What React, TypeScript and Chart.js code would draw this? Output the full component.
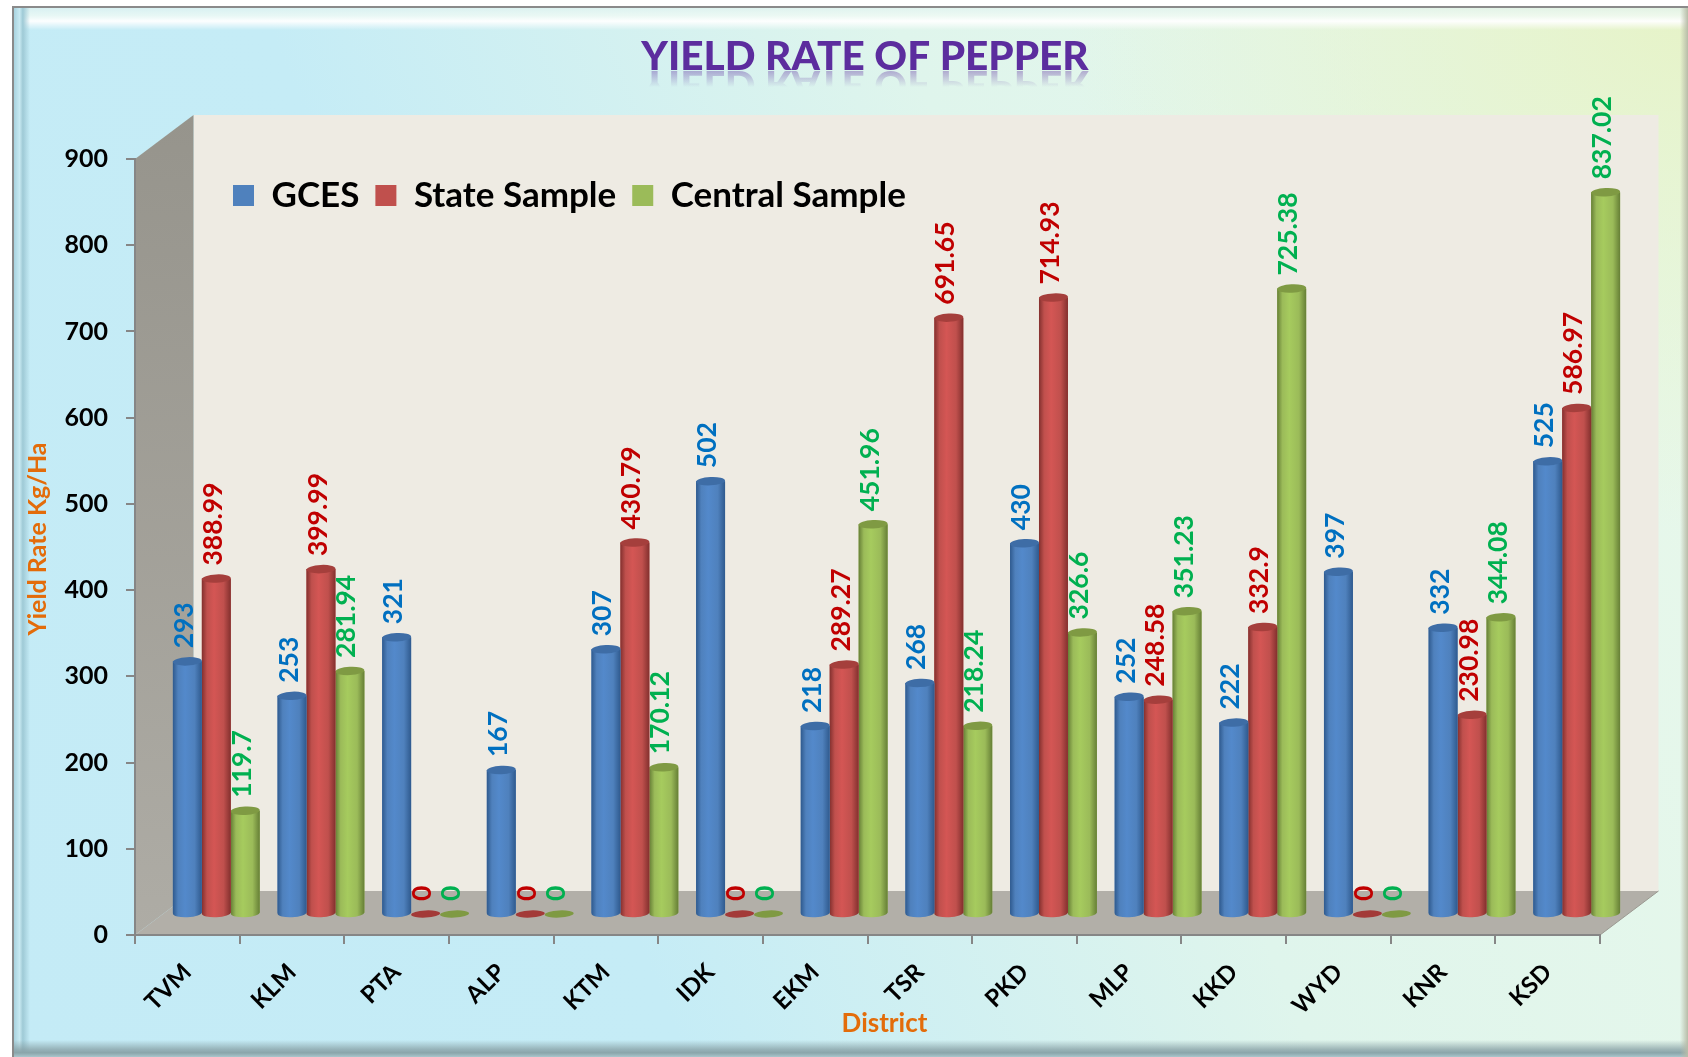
import React, { useEffect, useRef } from "react";
import { Chart, registerables } from "chart.js";

Chart.register(...registerables);

const districts = ["TVM", "KLM", "PTA", "ALP", "KTM", "IDK", "EKM", "TSR", "PKD", "MLP", "KKD", "WYD", "KNR", "KSD"];
const gces = [293, 253, 321, 167, 307, 502, 218, 268, 430, 252, 222, 397, 332, 525];
const stateSample = [388.99, 399.99, 0, 0, 430.79, 0, 289.27, 691.65, 714.93, 248.58, 332.9, 0, 230.98, 586.97];
const centralSample = [119.7, 281.94, 0, 0, 170.12, 0, 451.96, 218.24, 326.6, 351.23, 725.38, 0, 344.08, 837.02];

const FONT = "Lato, 'Noto Sans', sans-serif";
const DEPTH_X = 58.5;
const DEPTH_Y = 44;
const BAR_DX = 29;
const BAR_DY = 21;

const palettes = [
  { base: "#4f81bd", edge: "#2f5a8e", mid: "#5389cb", cap: "#3e6da6", zero: "#3e6da6", label: "#0070c0" },
  { base: "#c0504d", edge: "#83302e", mid: "#d45654", cap: "#a53f3c", zero: "#a33a38", label: "#c00000" },
  { base: "#9bbb59", edge: "#667f36", mid: "#a6cb5e", cap: "#7f9a43", zero: "#7f9a43", label: "#00b050" },
];

function cylinder(ctx: CanvasRenderingContext2D, x: number, top: number, base: number, w: number, p: (typeof palettes)[number]) {
  const rx = w / 2;
  const tilt = -0.05;
  const solid = base - top > 0.5;
  const ry = solid ? 4.2 : 3.6;
  if (solid) {
    const g = ctx.createLinearGradient(x - rx, 0, x + rx, 0);
    g.addColorStop(0, p.edge);
    g.addColorStop(0.18, p.base);
    g.addColorStop(0.42, p.mid);
    g.addColorStop(0.75, p.base);
    g.addColorStop(1, p.edge);
    ctx.fillStyle = g;
    ctx.beginPath();
    ctx.moveTo(x - rx, top);
    ctx.lineTo(x - rx, base);
    ctx.ellipse(x, base, rx, ry, tilt, Math.PI, 0, true);
    ctx.lineTo(x + rx, top);
    ctx.closePath();
    ctx.fill();
  }
  ctx.fillStyle = solid ? p.cap : p.zero;
  ctx.beginPath();
  ctx.ellipse(x, top, rx, ry, tilt, 0, Math.PI * 2);
  ctx.fill();
}

const scene3d = {
  id: "scene3d",
  afterLayout(chart: any) {
    const { titleBlock, legend, scales } = chart;
    titleBlock.left += 65;
    titleBlock.right += 65;
    legend.left = 217;
    legend.right = 1100;
    legend.top = 162;
    legend.bottom = 223;
    const shiftTitle = (s: any, dx: number, dy: number) => {
      const orig = Object.getPrototypeOf(s).drawTitle ?? s.drawTitle;
      s.drawTitle = function () {
        const c = this.ctx;
        c.save();
        c.translate(dx, dy);
        orig.call(this);
        c.restore();
      };
    };
    shiftTitle(scales.x, 17, 0);
    shiftTitle(scales.y, 0, -8);
  },
  beforeDraw(chart: any) {
    const { ctx, chartArea: a } = chart;
    ctx.save();
    // back wall
    ctx.fillStyle = "#eeebe3";
    ctx.fillRect(a.left + DEPTH_X, a.top - DEPTH_Y, a.right - a.left, a.bottom - a.top);
    // side wall
    const g = ctx.createLinearGradient(0, a.top - DEPTH_Y, 0, a.bottom);
    g.addColorStop(0, "#96948c");
    g.addColorStop(1, "#aeaca5");
    ctx.fillStyle = g;
    ctx.beginPath();
    ctx.moveTo(a.left, a.top);
    ctx.lineTo(a.left + DEPTH_X, a.top - DEPTH_Y);
    ctx.lineTo(a.left + DEPTH_X, a.bottom - DEPTH_Y);
    ctx.lineTo(a.left, a.bottom);
    ctx.closePath();
    ctx.fill();
    // floor
    ctx.fillStyle = "#b2afa8";
    ctx.beginPath();
    ctx.moveTo(a.left, a.bottom);
    ctx.lineTo(a.left + DEPTH_X, a.bottom - DEPTH_Y);
    ctx.lineTo(a.right + DEPTH_X, a.bottom - DEPTH_Y);
    ctx.lineTo(a.right, a.bottom);
    ctx.closePath();
    ctx.fill();
    ctx.strokeStyle = "#9a9890";
    ctx.lineWidth = 1;
    ctx.beginPath();
    ctx.moveTo(a.right, a.bottom);
    ctx.lineTo(a.right + DEPTH_X, a.bottom - DEPTH_Y);
    ctx.stroke();
    ctx.restore();
  },
  beforeDatasetDraw(chart: any) {
    chart.ctx.save();
    chart.ctx.translate(BAR_DX, -BAR_DY);
  },
  afterDatasetDraw(chart: any, args: any) {
    const { ctx } = chart;
    const p = palettes[args.index];
    args.meta.data.forEach((el: any) => {
      const { x, y, base, width } = el.getProps(["x", "y", "base", "width"], true);
      cylinder(ctx, x, y, base, width, p);
    });
    ctx.restore();
  },
  afterDatasetsDraw(chart: any) {
    const { ctx } = chart;
    ctx.save();
    ctx.font = `bold 26.5px ${FONT}`;
    ctx.textAlign = "left";
    ctx.textBaseline = "middle";
    chart.data.datasets.forEach((ds: any, i: number) => {
      ctx.fillStyle = palettes[i].label;
      chart.getDatasetMeta(i).data.forEach((el: any, j: number) => {
        const { x, y } = el.getProps(["x", "y"], true);
        ctx.save();
        ctx.translate(x + BAR_DX - 3, y - BAR_DY - 13);
        ctx.rotate(-Math.PI / 2);
        ctx.fillText(String(ds.data[j]), 0, 0);
        ctx.restore();
      });
    });
    ctx.restore();
  },
  afterDraw(chart: any) {
    const { ctx, titleBlock } = chart;
    const text = chart.options.plugins.title.text;
    const { size, weight } = chart.options.plugins.title.font;
    const cx = (titleBlock.left + titleBlock.right) / 2;
    const baseY = 70;
    ctx.save();
    ctx.beginPath();
    ctx.rect(cx - 300, baseY, 600, 20);
    ctx.clip();
    ctx.setTransform(1, 0, 0, -1, cx, baseY * 2 + 1);
    ctx.font = `${weight} ${size}px ${FONT}`;
    ctx.textAlign = "center";
    ctx.textBaseline = "alphabetic";
    const g2 = ctx.createLinearGradient(0, baseY + 1, 0, baseY - 16);
    g2.addColorStop(0, "rgba(96,48,160,0.4)");
    g2.addColorStop(1, "rgba(96,48,160,0)");
    ctx.fillStyle = g2;
    ctx.fillText(text, 0, baseY);
    ctx.restore();
  },
};

const band = (style: React.CSSProperties): React.CSSProperties => ({ position: "absolute", ...style });

export default function App() {
  const ref = useRef<HTMLCanvasElement>(null);
  useEffect(() => {
    document.body.style.margin = "0";
    const chart = new Chart(ref.current as HTMLCanvasElement, {
      type: "bar",
      data: {
        labels: districts,
        datasets: [
          { label: "GCES", data: gces, backgroundColor: palettes[0].base, clip: false as any },
          { label: "State Sample", data: stateSample, backgroundColor: palettes[1].base, clip: false as any },
          { label: "Central Sample", data: centralSample, backgroundColor: palettes[2].base, clip: false as any },
        ],
      },
      options: {
        responsive: false,
        animation: false,
        layout: { padding: { left: 0, top: 0, right: 88, bottom: 0 } },
        datasets: { bar: { categoryPercentage: 0.83, barPercentage: 1 } },
        plugins: {
          tooltip: { enabled: false },
          title: {
            display: true,
            text: "YIELD RATE OF PEPPER",
            color: "#5c2d9e",
            font: { family: FONT, size: 40.5, weight: "900", lineHeight: 1.2 },
            padding: { top: 33, bottom: 16.4 },
          },
          legend: {
            display: true,
            position: "top",
            align: "start",
            labels: {
              boxWidth: 21,
              boxHeight: 21,
              padding: 16,
              color: "#000",
              font: { family: FONT, size: 35, weight: "bold" },
            },
          },
        },
        scales: {
          x: {
            grid: { display: true, drawOnChartArea: false, drawTicks: true, tickLength: 9, color: "#868686", lineWidth: 2 },
            border: { display: true, color: "#868686", width: 2 },
            ticks: {
              autoSkip: false,
              minRotation: 45,
              maxRotation: 45,
              color: "#000",
              padding: 14,
              font: { family: FONT, size: 24, weight: "bold" },
            },
            title: {
              display: true,
              text: "District",
              color: "#e36c0a",
              font: { family: FONT, size: 26, weight: "bold" },
              padding: { top: 0, bottom: 18 },
            },
            afterFit(s: any) {
              s.height = 122;
            },
          },
          y: {
            min: 0,
            max: 900,
            grid: { display: true, drawOnChartArea: false, drawTicks: true, tickLength: 9, color: "#868686", lineWidth: 2 },
            border: { display: true, color: "#868686", width: 2 },
            ticks: {
              stepSize: 100,
              color: "#000",
              padding: 18,
              font: { family: FONT, size: 25, weight: "bold" },
            },
            title: {
              display: true,
              text: "Yield Rate Kg/Ha",
              color: "#e36c0a",
              font: { family: FONT, size: 25, weight: "bold" },
              padding: { top: 23, bottom: 0 },
            },
            afterFit(s: any) {
              s.width = 135;
            },
          },
        },
      },
      plugins: [scene3d],
    });
    return () => chart.destroy();
  }, []);

  return (
    <div style={{ position: "absolute", left: 0, top: 0, width: 1688, height: 1057, background: "#fff", overflow: "hidden" }}>
      <div
        style={band({
          left: 12,
          top: 6,
          right: 0,
          bottom: 0,
          borderTop: "2px solid #8a8a8a",
          borderLeft: "2px solid #8a8a8a",
          background:
            "radial-gradient(ellipse 620px 520px at 100% 0%, #e6f3c8 0%, rgba(230,243,200,0) 100%), linear-gradient(68deg, #c4ebf6 0%, #c5ecf6 32%, #dff5ec 62%, #e9f8ea 100%)",
        })}
      />
      <div style={band({ left: 14, top: 8, right: 0, height: 22, background: "linear-gradient(180deg, rgba(225,243,240,0.7) 0%, rgba(240,250,245,0.8) 35%, rgba(255,255,255,0.95) 60%, rgba(255,255,255,0) 100%)" })} />
      <div style={band({ left: 14, top: 8, width: 16, bottom: 0, background: "linear-gradient(90deg, #a9d3df 0%, #c7e9f1 35%, #9fcad6 55%, rgba(190,225,235,0) 100%)" })} />
      <div style={band({ left: 14, right: 0, bottom: 0, height: 17, background: "linear-gradient(180deg, rgba(150,175,180,0) 0%, rgba(135,160,165,0.75) 55%, #8aa5aa 75%, #a9c6cc 100%)" })} />
      <div style={band({ right: 0, top: 8, width: 8, bottom: 0, background: "linear-gradient(90deg, rgba(190,195,170,0), #b8bca8)" })} />
      <canvas ref={ref} width={1688} height={1057} style={{ position: "absolute", left: 0, top: 0, display: "block" }} />
    </div>
  );
}
